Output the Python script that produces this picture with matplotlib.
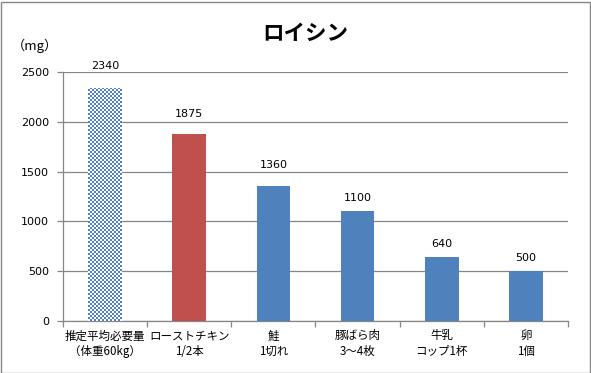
import numpy as np
import matplotlib
matplotlib.use("Agg")
import matplotlib.pyplot as plt
from matplotlib.colors import ListedColormap
from matplotlib.patches import Rectangle

plt.rcParams['font.family'] = ['Noto Sans CJK JP', 'DejaVu Sans']

title = "ロイシン"
unit_label = "（mg）"
categories = ["推定平均必要量\n（体重60kg）", "ローストチキン\n1/2本", "鮭\n1切れ",
              "豚ばら肉\n3～4枚", "牛乳\nコップ1杯", "卵\n1個"]
values = [2340, 1875, 1360, 1100, 640, 500]
yticks = [0, 500, 1000, 1500, 2000, 2500]
# vertical gap (points) between bar top and value-label centre
label_gap = [16, 14.5, 15, 9.5, 9.5, 9.5]

blue = "#4F81BD"
red = "#C0504D"
grid_c = "#868686"

W, H = 591, 373
fig = plt.figure(figsize=(W / 100, H / 100), dpi=100)
ax = fig.add_axes([63 / W, 52 / H, (568 - 63) / W, (321 - 72) / H])

x = np.arange(len(categories))
colors = ["white", red] + [blue] * (len(categories) - 2)
bars = ax.bar(x, values, width=0.4, color=colors, zorder=3)

ax.set_xlim(-0.5, len(categories) - 0.5)
ax.set_ylim(0, 2500)
ax.set_yticks(yticks)
ax.set_yticklabels([str(t) for t in yticks], fontsize=8, family='DejaVu Sans')
ax.yaxis.grid(True, color=grid_c, linewidth=0.9, zorder=0)
ax.set_axisbelow(True)

# category ticks at boundaries, labels centered
ax.set_xticks(np.arange(len(categories) + 1) - 0.5)
ax.set_xticklabels([])
ax.set_xticks(x, minor=True)
ax.set_xticklabels(categories, minor=True, fontsize=8.3, linespacing=1.3)
ax.tick_params(axis='x', which='minor', length=0, pad=6)
ax.tick_params(axis='x', which='major', length=4, color=grid_c, width=0.9)
ax.tick_params(axis='y', length=4, color=grid_c, width=0.9, pad=6)

for s in ['top', 'right']:
    ax.spines[s].set_visible(False)
for s in ['left', 'bottom']:
    ax.spines[s].set_color(grid_c)
    ax.spines[s].set_linewidth(0.9)

# checker pattern for first bar
fig.canvas.draw()
b0 = bars[0]
x0, y0 = b0.get_x(), b0.get_y()
bw, bh = b0.get_width(), b0.get_height()
p0 = ax.transData.transform((x0, y0))
p1 = ax.transData.transform((x0 + bw, y0 + bh))
ncols = max(1, int(round((p1[0] - p0[0]) / 2)))
nrows = max(1, int(round((p1[1] - p0[1]) / 2)))
checker = (np.add.outer(np.arange(nrows), np.arange(ncols)) % 2)
im = ax.imshow(checker, cmap=ListedColormap(["white", blue]), interpolation='nearest',
               extent=(x0, x0 + bw, y0, y0 + bh), aspect='auto', zorder=3)
im.set_clip_path(b0)
ax.set_xlim(-0.5, len(categories) - 0.5)
ax.set_ylim(0, 2500)

for xi, v, g in zip(x, values, label_gap):
    ax.annotate(str(v), (xi, v), xytext=(0, g), textcoords='offset points',
                ha='center', va='center', fontsize=8, family='DejaVu Sans',
                annotation_clip=False)

fig.text(305 / W, 1 - 33 / H, title, ha='center', va='center', fontsize=15.5, fontweight='bold')
fig.text(35 / W, 1 - 46 / H, unit_label, ha='center', va='center', fontsize=9.5)

fig.patches.append(Rectangle((0.5 / W, 0.5 / H), (W - 2) / W, (H - 2) / H,
                             transform=fig.transFigure, fill=False,
                             edgecolor=grid_c, linewidth=1.0))

fig.savefig("out.png", dpi=100)
